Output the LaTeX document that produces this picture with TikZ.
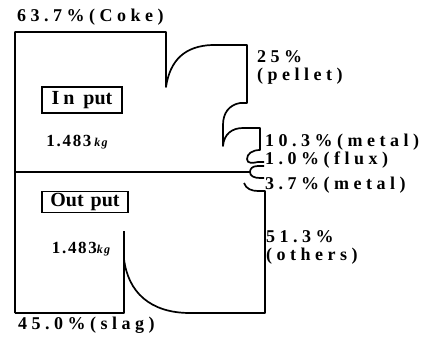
\documentclass[tikz,border=0pt]{standalone}
\usepackage{fontspec}
\setmainfont{Liberation Serif}
\newfontfamily\lblfont{Liberation Serif}[LetterSpace=25]
\newfontfamily\massfont{Liberation Serif}[LetterSpace=10]
\begin{document}
\begin{tikzpicture}[x=1pt,y=-1pt,
  flow/.style={line width=1.7pt,line join=round},
  lab/.style={font=\lblfont\bfseries\fontsize{18}{20}\selectfont,inner sep=0pt,anchor=west},
  boxlab/.style={draw,line width=1.2pt,inner sep=0pt,font=\fontsize{20}{22}\selectfont\bfseries},
  mass/.style={font=\massfont\fontsize{17}{19}\selectfont\bfseries,inner sep=0pt}]
\useasboundingbox (0,0) rectangle (426,338);
% input outline
\draw[flow] (15,313) -- (15,32) -- (166,32) -- (166,87)
  .. controls (170,60) and (185,46) .. (212,45) -- (247,45) -- (247,103) -- (240,103)
  .. controls (229,105) and (223,113) .. (223,125) -- (223,146)
  .. controls (224,134) and (232,128) .. (243,128) -- (260,128) -- (260,150)
  .. controls (252,150) and (247,154) .. (247,159)
  .. controls (247,164) and (253,163) .. (258,162) -- (264,162);
% divider
\draw[flow] (15,172) -- (250,172);
\draw[flow] (264,166) -- (258,166) .. controls (252,166) and (250,169) .. (250,172)
  .. controls (250,176) and (254,178) .. (260,178) -- (264,178);
% output outline
\draw[flow] (244,183) .. controls (246,189) and (252,191) .. (258,191) -- (265,191)
  -- (265,313) -- (190,313) .. controls (150,313) and (128,292) .. (124,259);
\draw[flow] (124,231) -- (124,313) -- (15,313);
% labels
\node[lab] (coke) at (17,17) {63.7\%(Coke)};
\node[lab] (pel1) at (257,57) {25\%};
\node[lab] (pel2) at (257,76) {(pellet)};
\node[lab] (met1) at (265,142) {10.3\%(metal)};
\node[lab] (flux) at (265,160) {1.0\%(flux)};
\node[lab] (met2) at (265,185) {3.7\%(metal)};
\node[lab] (oth1) at (266,237) {51.3\%};
\node[lab] (oth2) at (266,256) {(others)};
\node[lab] (slag) at (18,325) {45.0\%(slag)};
\node[boxlab,minimum width=80pt,minimum height=26pt] (inp) at (82,100) {I\hspace{4pt}n\hspace{9pt}put};
\node[boxlab,minimum width=86pt,minimum height=21pt] (outp) at (85,202) {Out\hspace{7pt}put};
\node[mass] (m1) at (77,142) {1.483\,{\fontsize{12}{14}\selectfont\itshape kg}};
\node[mass] (m2) at (81,249) {1.483{\fontsize{12}{14}\selectfont\itshape kg}};
\end{tikzpicture}
\end{document}
